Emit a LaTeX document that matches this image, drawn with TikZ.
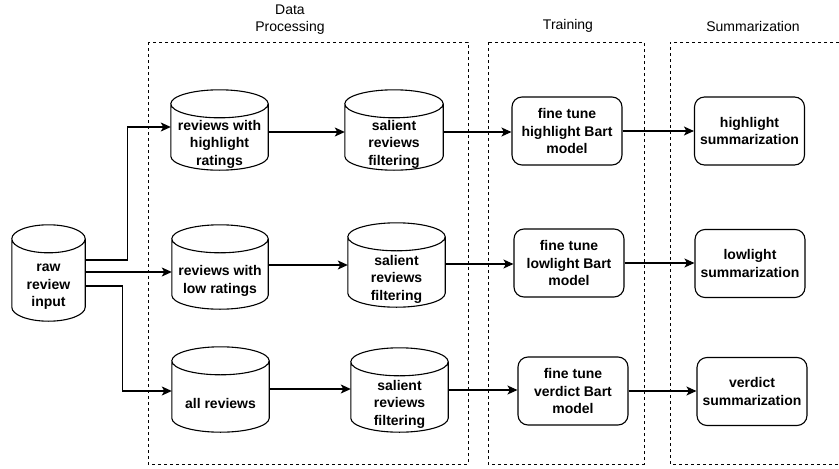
\documentclass[tikz,border=0pt]{standalone}
\usepackage{fontspec}
\setmainfont{Liberation Sans}
\usetikzlibrary{arrows.meta,calc}
\begin{document}
\begin{tikzpicture}[x=1pt,y=-1pt,
  txt/.style={font=\bfseries\fontsize{14}{17.5}\selectfont, align=center, inner sep=0pt},
  db/.style={txt, draw=none},
  box/.style={txt, draw, line width=1.1pt, rounded corners=10pt, minimum width=110pt, minimum height=68pt},
  ttl/.style={font=\fontsize{14}{17}\selectfont, align=center, inner sep=0pt},
  dbox/.style={line width=0.8pt, dash pattern=on 3pt off 3pt},
  arr/.style={line width=1.1pt, -{Stealth[length=10pt,width=9pt,inset=2.5pt]}},
  cylline/.style={line width=1.1pt}]
\useasboundingbox (0,0) rectangle (839,469);

% group frames
\draw[dbox] (148,42) rectangle (468,464);
\draw[dbox] (488,42) rectangle (644,464);
\draw[dbox] (839,42) -- (670,42) -- (670,464) -- (839,464);
\node[ttl] (tdp) at (290,20) {Data\\Processing};
\node[ttl] (ttr) at (568,26) {Training};
\node[ttl] (tsu) at (753,26) {Summarization};

% cylinder bodies (text area below top ellipse)
\node[db, minimum width=73pt, minimum height=68pt] (raw) at (48.5,287) {raw\\review\\input};
\node[db, minimum width=97pt, minimum height=52pt] (hl) at (219.5,144) {reviews with\\highlight\\ratings};
\node[db, minimum width=98pt, minimum height=52pt] (s1) at (394,144) {salient\\reviews\\filtering};
\node[db, minimum width=96pt, minimum height=56pt] (low) at (220,281) {reviews with\\low ratings};
\node[db, minimum width=97pt, minimum height=56pt] (s2) at (396.5,279) {salient\\reviews\\filtering};
\node[db, minimum width=97pt, minimum height=57pt] (all) at (220.5,403.5) {all reviews};
\node[db, minimum width=97pt, minimum height=56pt] (s3) at (399.5,404) {salient\\reviews\\filtering};

\foreach \nm in {raw,hl,s1,low,s2,all,s3}{
  \draw[cylline] let \p1=(\nm.north west), \p2=(\nm.south east), \n1={0.5*(\x2-\x1)} in
    (\x1,\y1+14pt) -- (\x1,\y2+14pt) arc[start angle=180,end angle=360,x radius=\n1,y radius=14pt]
    -- (\x2,\y1+14pt)
    (\x1+\n1,\y1+14pt) ellipse[x radius=\n1,y radius=14pt];
}

% rounded boxes
\node[box] (f1) at (567,131) {fine tune\\highlight Bart\\model};
\node[box] (o1) at (749.5,131) {highlight\\summarization};
\node[box] (f2) at (569,263) {fine tune\\lowlight Bart\\model};
\node[box] (o2) at (750,263.5) {lowlight\\summarization};
\node[box] (f3) at (573,391) {fine tune\\verdict Bart\\model};
\node[box] (o3) at (752,391.5) {verdict\\summarization};

% connectors from raw input
\draw[arr] ([yshift=27pt]raw.east) -- ++(42,0) |- ([yshift=17pt]hl.west);
\draw[arr] ([yshift=15pt]raw.east) -- ([yshift=15pt]raw.east -| low.west);
\draw[arr] ([yshift=1pt]raw.east) -- ++(37,0) |- ([yshift=12.5pt]all.west);

% row 1
\draw[arr] ([yshift=12pt]hl.east) -- ([yshift=12pt]hl.east -| s1.west);
\draw[arr] ([yshift=12pt]s1.east) -- ([yshift=12pt]s1.east -| f1.west);
\draw[arr] (f1.east) -- (f1.east -| o1.west);
% row 2
\draw[arr] ([yshift=16pt]low.east) -- ([yshift=16pt]low.east -| s2.west);
\draw[arr] ([yshift=15pt]s2.east) -- ([yshift=15pt]s2.east -| f2.west);
\draw[arr] (f2.east) -- (f2.east -| o2.west);
% row 3
\draw[arr] ([yshift=14.5pt]all.east) -- ([yshift=14.5pt]all.east -| s3.west);
\draw[arr] ([yshift=14pt]s3.east) -- ([yshift=14pt]s3.east -| f3.west);
\draw[arr] (f3.east) -- (f3.east -| o3.west);
\end{tikzpicture}
\end{document}
